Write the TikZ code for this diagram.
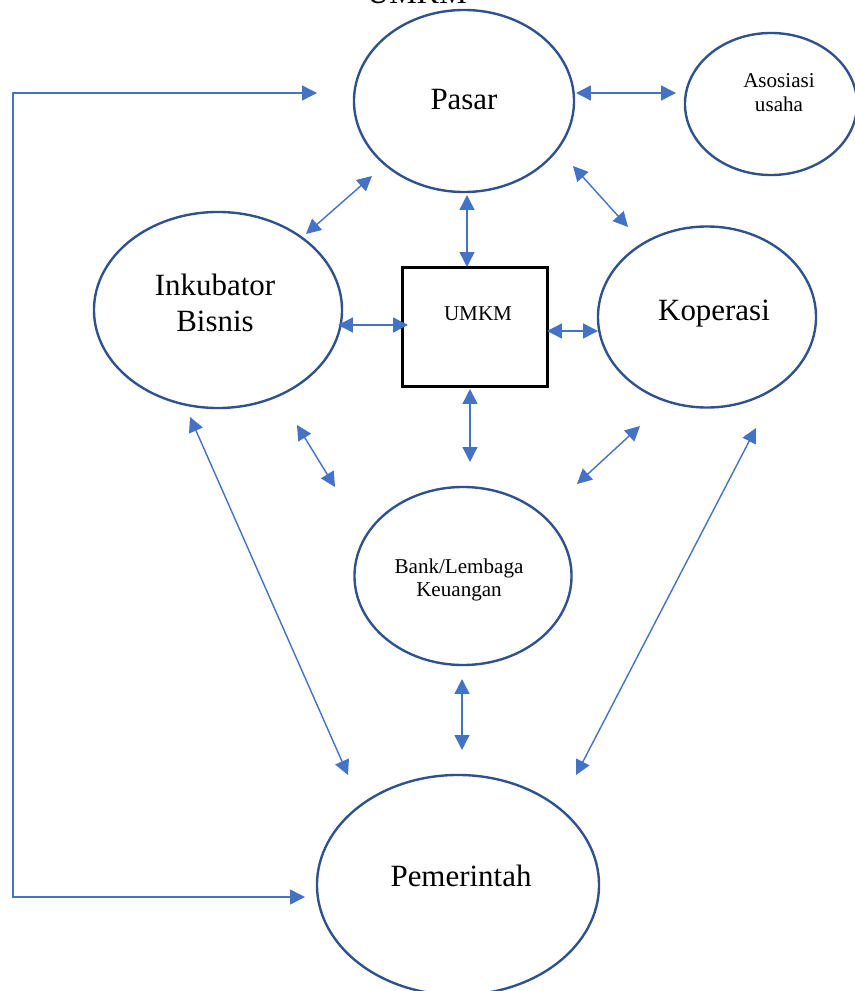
\documentclass[tikz,border=0pt]{standalone}
\usepackage{fontspec}
\setmainfont{Liberation Serif}
\usepackage{xcolor}
\usepackage{tikz}
\usetikzlibrary{shapes.geometric}
\usetikzlibrary{arrows.meta}
\definecolor{rim}{HTML}{2F528F}
\definecolor{wire}{HTML}{4472C4}
\begin{document}
\begin{tikzpicture}[x=0.025cm, y=-0.025cm,
    bubble/.style={shape=ellipse, draw=rim, line width=1.7pt, inner sep=0pt},
    bigtxt/.style={font=\fontsize{22}{26}\selectfont, align=center, inner sep=0pt},
    smalltxt/.style={font=\fontsize{15}{17}\selectfont, align=center, inner sep=0pt},
    link/.style={draw=wire, line width=1pt, {Triangle[length=10.5pt,width=10.5pt]}-{Triangle[length=10.5pt,width=10.5pt]}}]
    	\useasboundingbox (0,0) rectangle (854,991);
    	% Paths, nodes and wires:
    	\node[bigtxt](title) at (417,-6){UMKM};
    	\node[bubble, minimum width=5.5cm, minimum height=4.55cm](pasar) at (464,101){};
    	\node[bigtxt](pasarT) at (464,100){Pasar};
    	\node[bubble, minimum width=4.3cm, minimum height=3.55cm](asosiasi) at (771,104){};
    	\node[smalltxt](asosiasiT) at (779,93){Asosiasi\\usaha};
    	\node[bubble, minimum width=6.2cm, minimum height=4.9cm](inkubator) at (218,310){};
    	\node[bigtxt](inkubatorT) at (215,303){Inkubator\\Bisnis};
    	\node[shape=rectangle, draw=black, line width=1.5pt, minimum width=3.625cm, minimum height=2.975cm](umkm) at (475,327){};
    	\node[smalltxt](umkmT) at (478,314){UMKM};
    	\node[bubble, minimum width=5.45cm, minimum height=4.525cm](koperasi) at (707,317){};
    	\node[bigtxt](koperasiT) at (714,314){Koperasi};
    	\node[bubble, minimum width=5.425cm, minimum height=4.45cm](bank) at (463,576){};
    	\node[smalltxt](bankT) at (459,580){Bank/Lembaga\\Keuangan};
    	\node[bubble, minimum width=7.05cm, minimum height=5.5cm](pemerintah) at (458,885){};
    	\node[bigtxt](pemerintahT) at (461,876){Pemerintah};
    	\coordinate (corner) at (13,93);
    	\draw[link] ([shift={(112,-8)}]pasar.center) -- ([shift={(-95,-11)}]asosiasi.center);
    	\draw[link] ([shift={(-92,75)}]pasar.center) -- ([shift={(88,-76)}]inkubator.center);
    	\draw[link] ([shift={(3,94)}]pasar.center) -- ([shift={(-8,-60)}]umkm.center);
    	\draw[link] ([shift={(109,65)}]pasar.center) -- ([shift={(-79,-90)}]koperasi.center);
    	\draw[link] ([shift={(120,15)}]inkubator.center) -- ([shift={(-67,-2)}]umkm.center);
    	\draw[link] ([shift={(72,4)}]umkm.center) -- ([shift={(-109,14)}]koperasi.center);
    	\draw[link] ([shift={(-5,62)}]umkm.center) -- ([shift={(7,-114)}]bank.center);
    	\draw[link] ([shift={(79,115)}]inkubator.center) -- ([shift={(-128,-89)}]bank.center);
    	\draw[link] ([shift={(-67,109)}]koperasi.center) -- ([shift={(114,-92)}]bank.center);
    	\draw[link] ([shift={(-28,107)}]inkubator.center) -- ([shift={(-110,-110)}]pemerintah.center);
    	\draw[link] ([shift={(49,111)}]koperasi.center) -- ([shift={(118,-110)}]pemerintah.center);
    	\draw[link] ([shift={(-1,103)}]bank.center) -- ([shift={(4,-135)}]pemerintah.center);
    	\draw[link] ([shift={(-147,-8)}]pasar.center) -- (corner) |- ([shift={(-153,12)}]pemerintah.center);
    	\end{tikzpicture}
\end{document}
